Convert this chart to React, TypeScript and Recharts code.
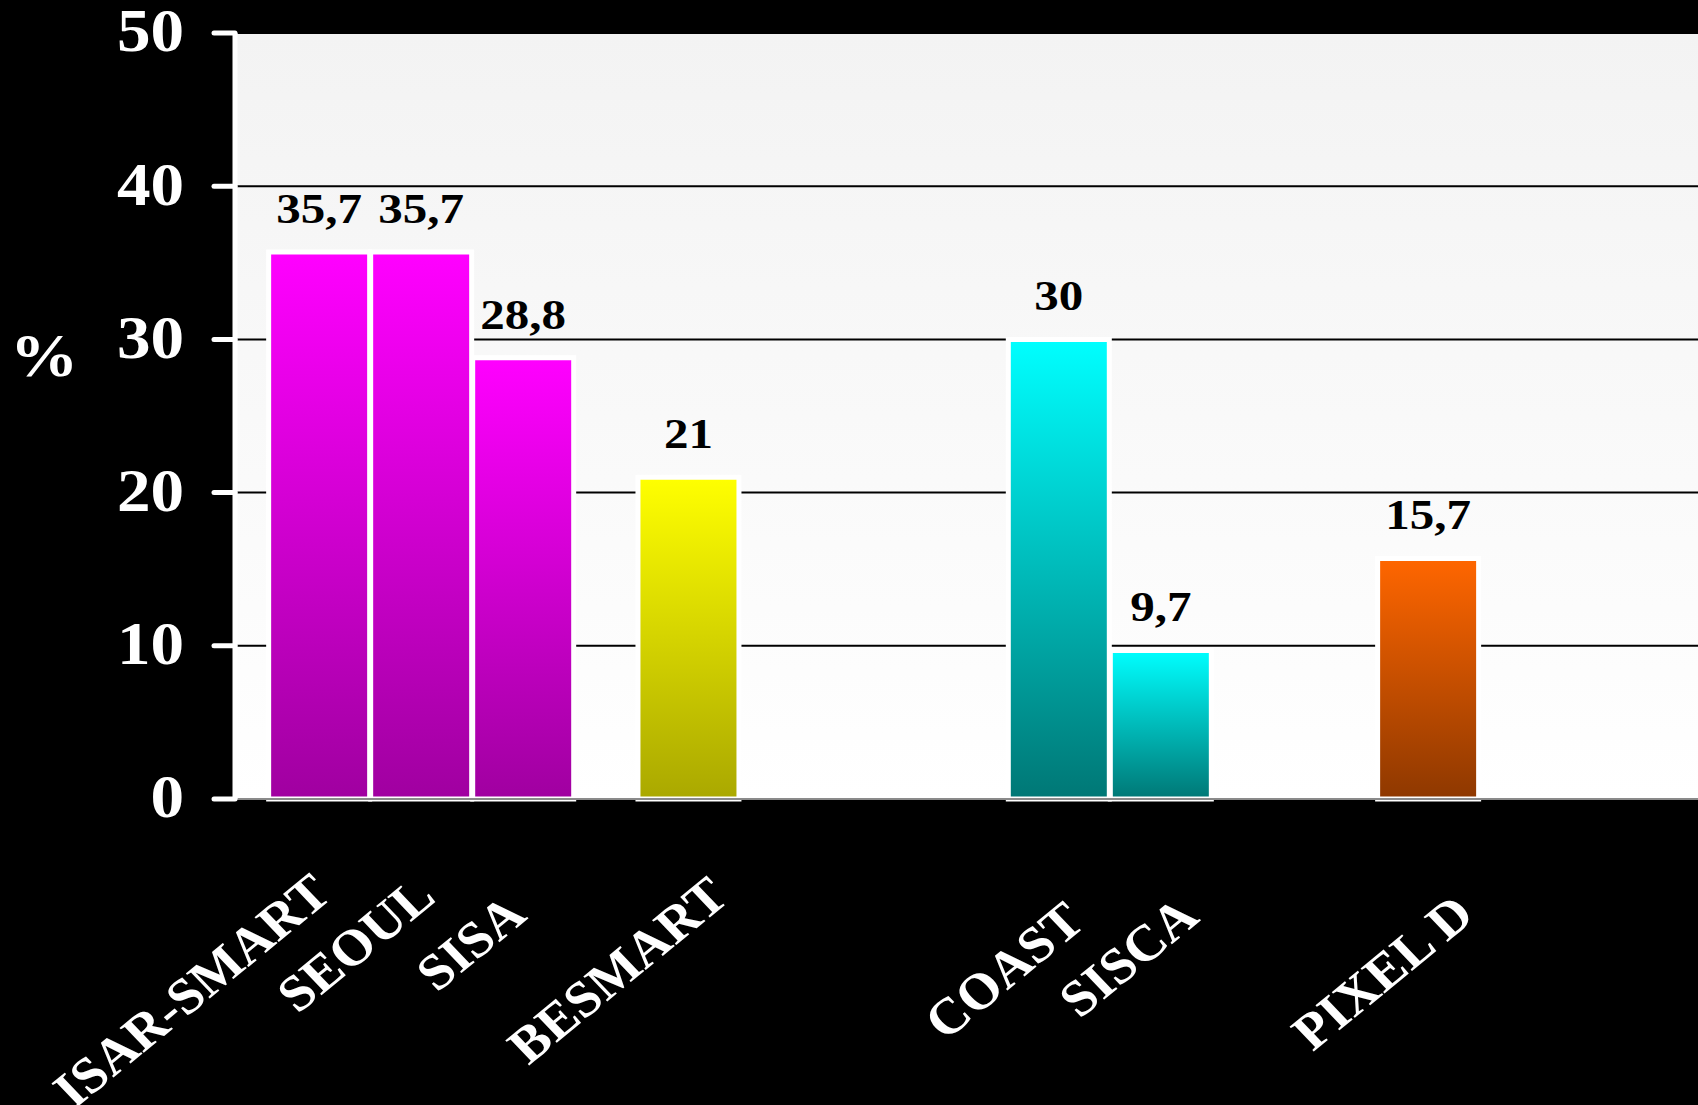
import React from "react";
import {
  BarChart,
  Bar,
  XAxis,
  YAxis,
  CartesianGrid,
  Cell,
  LabelList,
  Label,
} from "recharts";

const methods = ["ISAR-SMART", "SEOUL", "SISA", "BESMART", "COAST", "SISCA", "PIXEL D"];
const percentages = [35.7, 35.7, 28.8, 21, 30, 9.7, 15.7];
const yTicks = [0, 10, 20, 30, 40, 50];

// layout only: where each bar sits on the x axis, counted in bar pitches
const barSlots = [0, 1, 2, 3.62, 7.25, 8.25, 10.87];
const barFills = ["magenta", "magenta", "magenta", "yellow", "cyan", "cyan", "orange"];
// hand placed category labels in the original, nudges in px from the tick
const labelNudge: [number, number][] = [
  [15, 98],
  [17, 101],
  [6, 119],
  [43, 101],
  [29, 126],
  [41, 121],
  [49, 119],
];

const data = methods.map((name, i) => ({ name, value: percentages[i], slot: barSlots[i] }));

const SERIF = '"Liberation Serif", "Times New Roman", Times, serif';
// the source slide was stretched sideways, so all text is too
const STRETCH = 1.08;

const gradients: Record<string, [string, string]> = {
  magenta: ["#ff00ff", "#a000a0"],
  yellow: ["#ffff00", "#aaa800"],
  cyan: ["#00ffff", "#007775"],
  orange: ["#ff6600", "#8e3800"],
};

const fmt = (v: any) => String(v).replace(".", ",");

const MethodTick = (props: any) => {
  const { x, y, payload } = props;
  const idx = barSlots.indexOf(payload.value);
  if (idx < 0) return null;
  const [dx, dy] = labelNudge[idx];
  return (
    <text
      x={0}
      y={0}
      transform={`translate(${x + dx}, ${y + dy}) scale(${STRETCH}, 1) rotate(-41.5)`}
      textAnchor="end"
      fill="#fff"
      fontSize={51}
      fontWeight="bold"
      fontFamily={SERIF}
    >
      {methods[idx]}
    </text>
  );
};

const PercentTick = (props: any) => {
  const { x, y, payload } = props;
  return (
    <text
      x={0}
      y={0}
      dy="0.3em"
      transform={`translate(${x}, ${y}) scale(1.1, 1)`}
      textAnchor="end"
      fill="#fff"
      fontSize={61}
      fontWeight="bold"
      fontFamily={SERIF}
    >
      {payload.value}
    </text>
  );
};

const ValueLabel = (props: any) => {
  const { x, y, width, value } = props;
  const cx = Number(x) + Number(width) / 2;
  const cy = Number(y) - 29;
  return (
    <text
      x={0}
      y={0}
      transform={`translate(${cx}, ${cy}) scale(1.14, 1)`}
      textAnchor="middle"
      fill="#000"
      fontSize={43}
      fontWeight="bold"
      fontFamily={SERIF}
    >
      {fmt(value)}
    </text>
  );
};

export default function App() {
  return (
    <div style={{ width: 1698, height: 1105, background: "#000" }}>
      <style>{`body{margin:0;background:#000}`}</style>
      <BarChart
        width={1698}
        height={1105}
        data={data}
        margin={{ top: 33, right: 0, bottom: 0, left: 0 }}
      >
        <defs>
          <linearGradient id="plotBg" x1="0" y1="0" x2="0" y2="1">
            <stop offset="0%" stopColor="#f3f3f3" />
            <stop offset="100%" stopColor="#ffffff" />
          </linearGradient>
          {Object.entries(gradients).map(([k, [top, bottom]]) => (
            <linearGradient key={k} id={`grad-${k}`} x1="0" y1="0" x2="0" y2="1">
              <stop offset="0%" stopColor={top} />
              <stop offset="100%" stopColor={bottom} />
            </linearGradient>
          ))}
        </defs>
        <CartesianGrid
          vertical={false}
          stroke="#000"
          strokeWidth={2}
          fill="url(#plotBg)"
          fillOpacity={1}
        />
        <XAxis
          type="number"
          dataKey="slot"
          domain={[-0.82, 13.52]}
          ticks={barSlots}
          interval={0}
          allowDataOverflow
          tick={<MethodTick />}
          tickLine={false}
          tickSize={0}
          tickMargin={0}
          axisLine={{ stroke: "#8a8a8a", strokeWidth: 2 }}
          height={306}
        />
        <YAxis
          type="number"
          domain={[0, 50]}
          ticks={yTicks}
          width={235}
          tickSize={21}
          tickMargin={30}
          axisLine={{ stroke: "#fff", strokeWidth: 5 }}
          tickLine={{ stroke: "#fff", strokeWidth: 5, strokeLinecap: "round" }}
          tick={<PercentTick />}
        >
          <Label
            content={() => (
              <text
                x={0}
                y={0}
                transform="translate(44, 376) scale(1.1, 1)"
                textAnchor="middle"
                fill="#fff"
                fontSize={62}
                fontWeight="bold"
                fontFamily={SERIF}
              >
                %
              </text>
            )}
          />
        </YAxis>
        <Bar
          dataKey="value"
          barSize={101}
          stroke="#fff"
          strokeWidth={5}
          isAnimationActive={false}
        >
          {data.map((d, i) => (
            <Cell key={d.name} fill={`url(#grad-${barFills[i]})`} />
          ))}
          <LabelList dataKey="value" content={<ValueLabel />} />
        </Bar>
      </BarChart>
    </div>
  );
}
